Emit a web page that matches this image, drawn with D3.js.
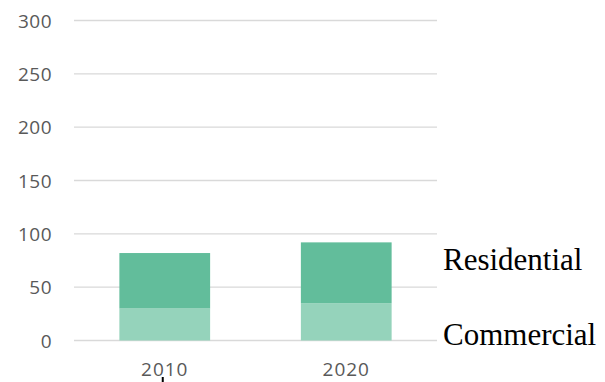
<!DOCTYPE html>
<html>
<head>
<meta charset="utf-8">
<script src="https://cdn.jsdelivr.net/npm/d3@7"></script>
<style>
  html, body { margin: 0; padding: 0; background: #fff; }
  svg { display: block; }
</style>
</head>
<body>
<svg id="chart" width="605" height="382"></svg>
<script>
// Stacked building-type totals by year
const years = ["2010", "2020"];
const commercial = [30, 35];
const residential = [52, 57];
const yTicks = [0, 50, 100, 150, 200, 250, 300];
const seriesNames = ["Commercial", "Residential"];
const seriesColors = ["#95d3bb", "#62bd9b"];

const svg = d3.select("#chart");

const y = d3.scaleLinear().domain([0, 300]).range([340.5, 20.5]);
const x = d3.scaleBand().domain(years).range([74, 437])
  .paddingInner(0.5).paddingOuter(0.25);

// horizontal gridlines
svg.append("g").selectAll("line").data(yTicks).join("line")
  .attr("x1", 74).attr("x2", 437)
  .attr("y1", d => y(d)).attr("y2", d => y(d))
  .attr("stroke", "#d9d9d9").attr("stroke-width", 1.4);

// y-axis labels
const yAxis = d3.axisLeft(y).tickValues(yTicks).tickSize(0).tickPadding(0);
const yg = svg.append("g").attr("transform", "translate(52,0)").call(yAxis);
yg.select(".domain").remove();
yg.selectAll("text")
  .attr("fill", "#595959")
  .style("font-family", "'Open Sans', sans-serif")
  .style("font-size", "19px")
  .style("letter-spacing", "0.5px")
  .attr("dy", "0.35em");

// stacked bars
const rows = years.map((yr, i) => ({ year: yr, Commercial: commercial[i], Residential: residential[i] }));
const stack = d3.stack().keys(seriesNames)(rows);
svg.append("g").selectAll("g").data(stack).join("g")
  .attr("fill", (d, i) => seriesColors[i])
  .selectAll("rect").data(d => d).join("rect")
  .attr("x", d => x(d.data.year))
  .attr("width", x.bandwidth())
  .attr("y", d => y(d[1]))
  .attr("height", d => y(d[0]) - y(d[1]));

// x-axis labels
const xAxis = d3.axisBottom(x).tickSize(0).tickPadding(0);
const xg = svg.append("g").attr("transform", "translate(0,362)").call(xAxis);
xg.select(".domain").remove();
xg.selectAll("text")
  .attr("fill", "#595959")
  .attr("dy", "0.75em")
  .style("font-family", "'Open Sans', sans-serif")
  .style("font-size", "19px")
  .style("letter-spacing", "1px");

// small marker under the first category
svg.append("line")
  .attr("x1", x(years[0]) + x.bandwidth() / 2 - 2).attr("x2", x(years[0]) + x.bandwidth() / 2 - 2)
  .attr("y1", 377).attr("y2", 382)
  .attr("stroke", "#000").attr("stroke-width", 2);

// series labels at the right
const labels = [
  { name: "Residential", yPos: 270 },
  { name: "Commercial", yPos: 345 }
];
svg.append("g").selectAll("text").data(labels).join("text")
  .attr("x", 443).attr("y", d => d.yPos)
  .attr("fill", "#000")
  .style("font-family", "'Liberation Serif', 'Times New Roman', serif")
  .style("font-size", "31px")
  .text(d => d.name);
</script>
</body>
</html>
